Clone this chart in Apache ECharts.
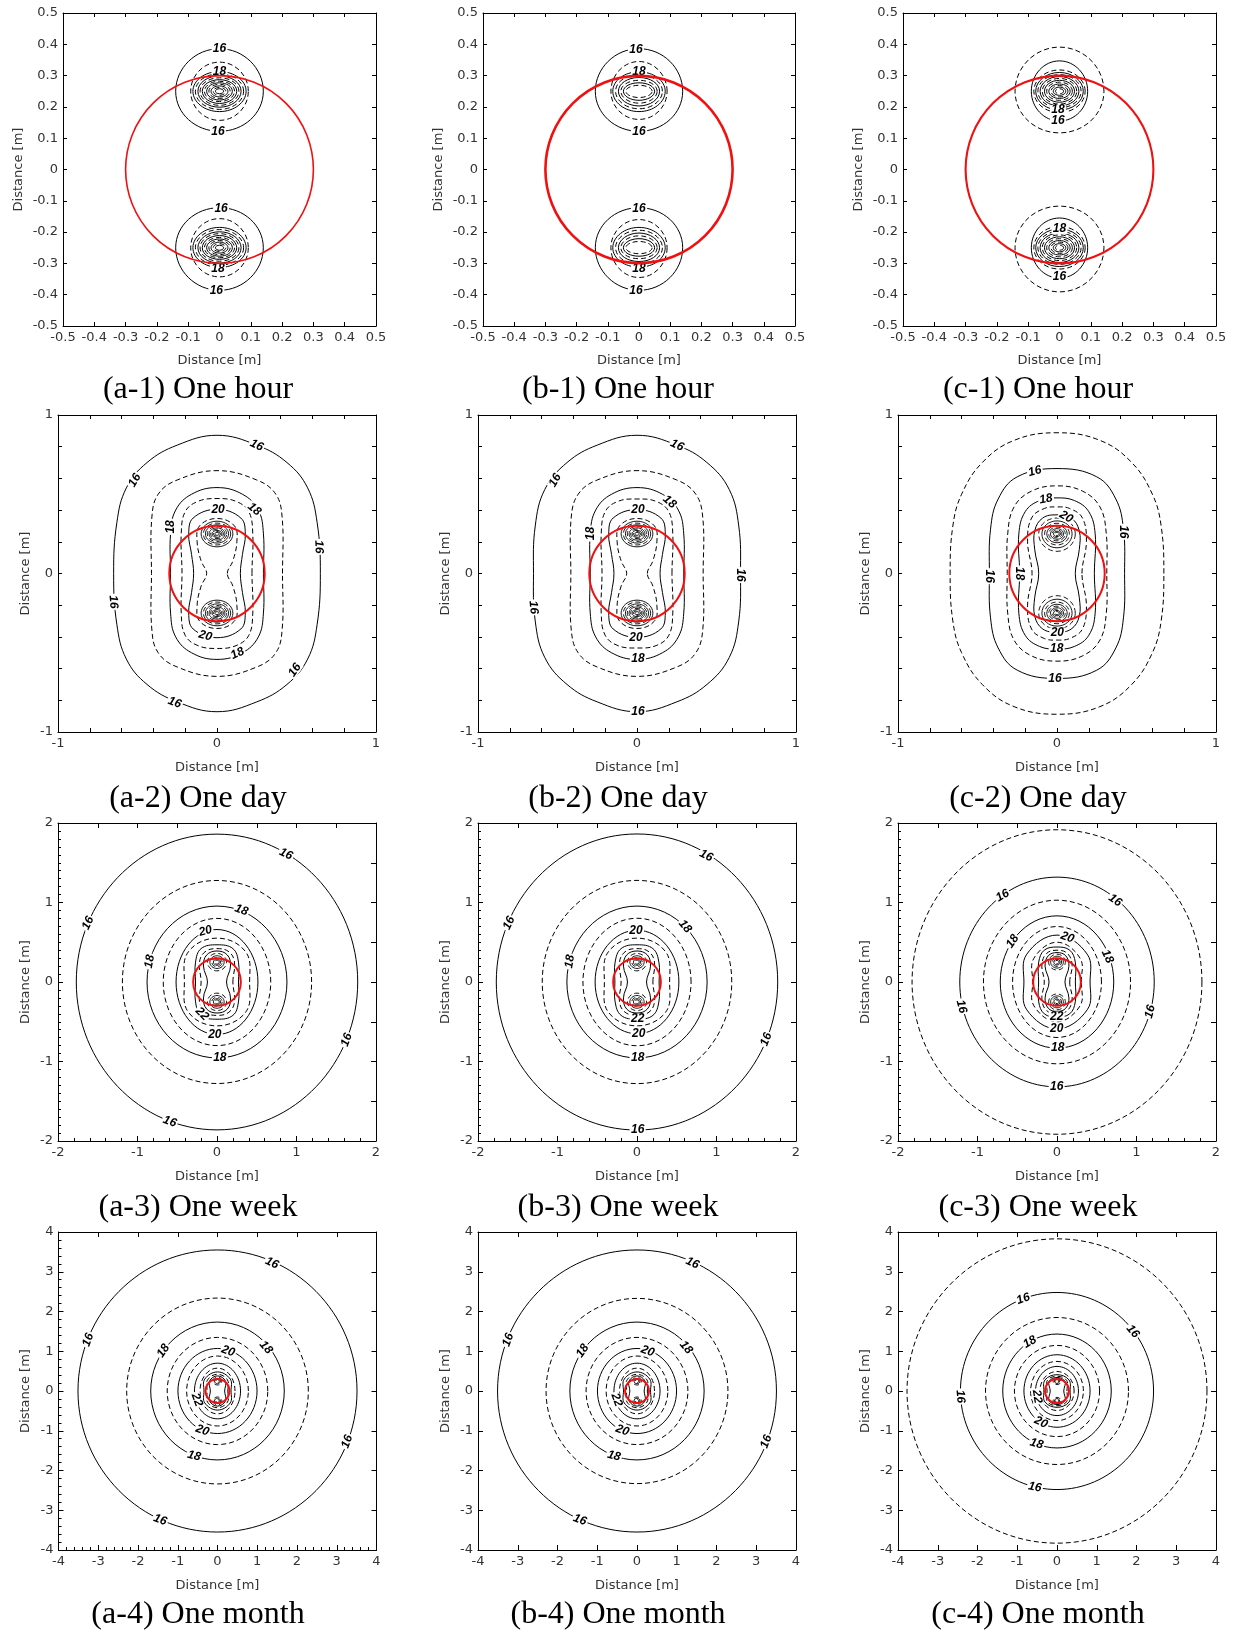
<!DOCTYPE html>
<html><head><meta charset="utf-8">
<script src="https://cdn.jsdelivr.net/npm/echarts@6/dist/echarts.min.js"></script>
<style>html,body{margin:0;padding:0;background:#fff}#c{width:1234px;height:1634px}</style>
</head><body><div id="c"></div>
<script>
// ================= DATA =================
const panelIds = ['a-1','b-1','c-1','a-2','b-2','c-2','a-3','b-3','c-3','a-4','b-4','c-4'];
const periodNames = ['One hour','One day','One week','One month'];
const axisHalfRange = [0.5, 1, 2, 4];          // axis limits per row [m]
const sourceY = 0.25;                           // pipes at (0, ±0.25) m
const boreRadius = 0.3;                         // red circle radius [m]

// Loops around each pipe: [level, halfWidth, halfHeight away from centre, halfHeight toward centre]
const a1Loops = [[16,0.140,0.136,0.128],[17,0.092,0.093,0.093],[18,0.085,0.063,0.065],[19,0.077,0.056,0.058],
  [20,0.069,0.049,0.051],[21,0.062,0.043,0.045],[22,0.055,0.037,0.039],[23,0.048,0.032,0.033],[24,0.041,0.027,0.028],
  [25,0.034,0.022,0.023],[26,0.027,0.017,0.018],[27,0.020,0.012,0.013],[28,0.013,0.008,0.008]];
const b1Loops = [[16,0.140,0.136,0.128],[17,0.090,0.095,0.090],[18,0.084,0.062,0.065],[19,0.075,0.053,0.056],
  [20,0.066,0.044,0.047],[21,0.058,0.035,0.038],[22,0.050,0.027,0.029],[23,0.042,0.019,0.020]];
const c1Loops = [[15,0.142,0.141,0.133],[16,0.090,0.097,0.095],[17,0.082,0.068,0.068],[18,0.076,0.060,0.060],
  [19,0.069,0.053,0.053],[20,0.062,0.047,0.047],[21,0.055,0.041,0.041],[22,0.048,0.035,0.035],[23,0.041,0.029,0.029],
  [24,0.034,0.023,0.023],[25,0.027,0.018,0.018],[26,0.020,0.013,0.013],[27,0.013,0.008,0.008]];
const a2Loops = [[22,0.100,0.080,0.082],[23,0.086,0.068,0.070],[24,0.073,0.057,0.058],[25,0.061,0.047,0.048],
  [26,0.050,0.038,0.039],[27,0.040,0.030,0.030],[28,0.031,0.022,0.022],[29,0.022,0.015,0.015],[30,0.014,0.009,0.009]];
const b2Loops = [[22,0.100,0.080,0.082],[23,0.086,0.068,0.070],[24,0.073,0.057,0.058],[25,0.061,0.047,0.048],
  [26,0.050,0.038,0.039],[27,0.040,0.030,0.030],[28,0.031,0.022,0.022],[29,0.022,0.015,0.015],[30,0.014,0.009,0.009]];
const c2Loops = [[21,0.115,0.100,0.110],[22,0.095,0.082,0.088],[23,0.078,0.067,0.070],[24,0.064,0.054,0.056],
  [25,0.052,0.043,0.044],[26,0.041,0.033,0.034],[27,0.031,0.025,0.025],[28,0.022,0.017,0.017],[29,0.014,0.010,0.010]];
const a3Loops = [[25,0.120,0.110,0.110],[26,0.090,0.080,0.080],[27,0.065,0.058,0.058],[28,0.045,0.040,0.040],[29,0.028,0.025,0.025]];
const b3Loops = [[25,0.120,0.110,0.110],[26,0.090,0.080,0.080],[27,0.065,0.058,0.058],[28,0.045,0.040,0.040],[29,0.028,0.025,0.025]];
const c3Loops = [[25,0.105,0.100,0.100],[26,0.080,0.075,0.075],[27,0.058,0.054,0.054],[28,0.040,0.036,0.036],[29,0.025,0.022,0.022]];
const a4Loops = [[27,0.110,0.100,0.100],[28,0.075,0.068,0.068],[29,0.045,0.040,0.040]];
const b4Loops = [[27,0.110,0.100,0.100],[28,0.075,0.068,0.068],[29,0.045,0.040,0.040]];
const c4Loops = [[27,0.100,0.090,0.090],[28,0.065,0.060,0.060],[29,0.040,0.036,0.036]];

// Rings around the origin: [level, first-quadrant points from the +x axis to the +y axis]
const a2Rings = [
  [16,[[0.650,0],[0.630,0.32],[0.570,0.54],[0.440,0.70],[0.250,0.81],[0,0.872]]],
  [17,[[0.412,0],[0.410,0.35],[0.370,0.50],[0.250,0.59],[0,0.649]]],
  [18,[[0.292,0],[0.292,0.25],[0.260,0.40],[0.160,0.50],[0,0.542]]],
  [19,[[0.220,0],[0.225,0.25],[0.200,0.39],[0.120,0.455],[0,0.473]]],
  [20,[[0.147,0],[0.160,0.12],[0.178,0.25],[0.150,0.35],[0,0.405]]],
  [21,[[0.065,0],[0.100,0.08],[0.125,0.20],[0.110,0.30],[0,0.347]]]];
const b2Rings = [
  [16,[[0.651,0],[0.640,0.30],[0.580,0.53],[0.440,0.70],[0.250,0.81],[0,0.872]]],
  [17,[[0.416,0],[0.414,0.35],[0.370,0.50],[0.250,0.59],[0,0.649]]],
  [18,[[0.294,0],[0.294,0.25],[0.260,0.40],[0.160,0.50],[0,0.542]]],
  [19,[[0.220,0],[0.225,0.25],[0.200,0.39],[0.120,0.455],[0,0.470]]],
  [20,[[0.145,0],[0.160,0.12],[0.178,0.25],[0.150,0.35],[0,0.403]]],
  [21,[[0.065,0],[0.100,0.08],[0.125,0.20],[0.110,0.30],[0,0.347]]]];
const c2Rings = [
  [15,[[0.672,0],[0.655,0.30],[0.600,0.50],[0.470,0.70],[0.270,0.84],[0,0.888]]],
  [16,[[0.425,0],[0.418,0.28],[0.370,0.47],[0.250,0.61],[0,0.662]]],
  [17,[[0.313,0],[0.310,0.25],[0.270,0.42],[0.160,0.52],[0,0.553]]],
  [18,[[0.235,0],[0.240,0.25],[0.200,0.39],[0.110,0.46],[0,0.477]]],
  [19,[[0.157,0],[0.185,0.20],[0.160,0.35],[0.080,0.41],[0,0.420]]],
  [20,[[0.115,0],[0.140,0.15],[0.140,0.27],[0.090,0.35],[0,0.370]]]];
const a3Rings = [
  [16,[[1.770,0],[0,1.860]]],[17,[[1.190,0],[0,1.277]]],[18,[[0.880,0],[0,0.955]]],
  [19,[[0.676,0],[0,0.800]]],[20,[[0.515,0],[0,0.660]]],[21,[[0.410,0],[0.360,0.38],[0,0.552]]],
  [22,[[0.270,0],[0.270,0.25],[0.200,0.42],[0,0.468]]],[23,[[0.200,0],[0.220,0.25],[0.150,0.38],[0,0.420]]],
  [24,[[0.120,0],[0.170,0.20],[0.130,0.34],[0,0.390]]]];
const b3Rings = [
  [16,[[1.770,0],[0,1.862]]],[17,[[1.192,0],[0,1.278]]],[18,[[0.882,0],[0,0.955]]],
  [19,[[0.680,0],[0,0.802]]],[20,[[0.527,0],[0,0.651]]],[21,[[0.410,0],[0.360,0.38],[0,0.552]]],
  [22,[[0.278,0],[0.275,0.25],[0.200,0.42],[0,0.468]]],[23,[[0.200,0],[0.220,0.25],[0.150,0.38],[0,0.420]]],
  [24,[[0.120,0],[0.170,0.20],[0.130,0.34],[0,0.390]]]];
const c3Rings = [
  [15,[[1.823,0],[0,1.915]]],[16,[[1.223,0],[0,1.319]]],[17,[[0.925,0],[0,1.029]]],
  [18,[[0.714,0],[0,0.832]]],[19,[[0.559,0],[0,0.698]]],[20,[[0.416,0],[0.380,0.35],[0,0.590]]],
  [21,[[0.305,0],[0.290,0.30],[0,0.500]]],[22,[[0.231,0],[0.230,0.25],[0.160,0.40],[0,0.440]]],
  [23,[[0.160,0],[0.190,0.22],[0.130,0.36],[0,0.400]]],[24,[[0.100,0],[0.150,0.20],[0.110,0.33],[0,0.370]]]];
const a4Rings = [
  [16,[[3.510,0],[0,3.548]]],[17,[[2.285,0],[0,2.338]]],[18,[[1.680,0],[0,1.734]]],
  [19,[[1.265,0],[0,1.348]]],[20,[[0.995,0],[0,1.070]]],[21,[[0.777,0],[0,0.880]]],
  [22,[[0.580,0],[0,0.700]]],[23,[[0.440,0],[0,0.575]]],[24,[[0.340,0],[0.320,0.30],[0,0.480]]],
  [25,[[0.260,0],[0.250,0.28],[0,0.420]]],[26,[[0.180,0],[0.200,0.25],[0,0.380]]]];
const b4Rings = [
  [16,[[3.508,0],[0,3.548]]],[17,[[2.288,0],[0,2.330]]],[18,[[1.689,0],[0,1.734]]],
  [19,[[1.281,0],[0,1.348]]],[20,[[0.995,0],[0,1.070]]],[21,[[0.777,0],[0,0.880]]],
  [22,[[0.580,0],[0,0.700]]],[23,[[0.440,0],[0,0.575]]],[24,[[0.340,0],[0.320,0.30],[0,0.480]]],
  [25,[[0.260,0],[0.250,0.28],[0,0.420]]],[26,[[0.180,0],[0.200,0.25],[0,0.380]]]];
const c4Rings = [
  [15,[[3.773,0],[0,3.828]]],[16,[[2.429,0],[0,2.479]]],[17,[[1.798,0],[0,1.849]]],
  [18,[[1.365,0],[0,1.433]]],[19,[[1.071,0],[0,1.147]]],[20,[[0.832,0],[0,0.912]]],
  [21,[[0.664,0],[0,0.744]]],[22,[[0.540,0],[0,0.618]]],[23,[[0.430,0],[0,0.490]]],
  [24,[[0.330,0],[0.300,0.28],[0,0.410]]],[25,[[0.250,0],[0.240,0.27],[0,0.370]]],[26,[[0.170,0],[0.200,0.24],[0,0.340]]]];

// Contour labels: [text, x, y, rotation in degrees (counter-clockwise)]
const a1Labels = [['16',0,0.386,0],['18',0,0.312,0],['16',-0.005,0.122,0],['16',0.005,-0.126,0],['18',-0.005,-0.317,0],['16',-0.01,-0.386,0]];
const b1Labels = [['16',-0.01,0.384,0],['18',0,0.311,0],['16',0,0.122,0],['16',0,-0.125,0],['18',0,-0.316,0],['16',-0.01,-0.386,0]];
const c1Labels = [['18',-0.005,0.19,0],['16',-0.005,0.157,0],['18',0,-0.19,0],['16',0,-0.342,0]];
const a2Labels = [['16',0.249,0.809,-25],['16',-0.517,0.588,60],['16',0.640,0.168,-88],['16',-0.652,-0.179,-85],
  ['16',0.49,-0.609,55],['16',-0.266,-0.815,-20],['18',0.235,0.405,-40],['18',-0.293,0.294,90],['18',0.129,-0.504,25],
  ['20',0.007,0.403,0],['20',-0.073,-0.393,-15]];
const b2Labels = [['16',0.252,0.809,-25],['16',-0.515,0.588,60],['16',0.651,-0.01,-90],['16',-0.651,-0.214,-85],
  ['16',0.006,-0.872,0],['18',0.205,0.452,-40],['18',-0.294,0.252,90],['18',0.006,-0.540,0],['20',0.006,0.403,0],['20',-0.006,-0.405,0]];
const c2Labels = [['16',-0.139,0.645,15],['16',0.414,0.263,-90],['16',-0.426,-0.017,-90],['16',-0.013,-0.662,0],
  ['18',-0.069,0.470,10],['18',-0.237,0,-90],['18',-0.002,-0.475,0],['20',0.057,0.357,-30],['20',0.002,-0.372,0]];
const a3Labels = [['16',0.867,1.61,-25],['16',-1.622,0.741,65],['16',1.631,-0.729,70],['16',-0.594,-1.757,-20],
  ['18',0.308,0.905,-20],['18',-0.846,0.258,80],['18',0.036,-0.955,0],['20',-0.145,0.640,15],['20',-0.027,-0.658,0],['22',-0.187,-0.400,-45]];
const b3Labels = [['16',0.87,1.589,-25],['16',-1.609,0.741,65],['16',1.626,-0.721,70],['16',0.008,-1.862,0],
  ['18',0.605,0.699,-50],['18',-0.845,0.258,80],['18',0.008,-0.955,0],['20',-0.013,0.651,0],['20',0.021,-0.651,0],['22',0.008,-0.466,0]];
const c3Labels = [['16',-0.685,1.086,30],['16',0.731,1.027,-35],['16',-1.202,-0.309,-75],['16',1.172,-0.372,75],
  ['16',-0.004,-1.319,0],['18',-0.559,0.51,55],['18',0.634,0.321,-65],['18',0.008,-0.832,0],['20',0.13,0.56,-20],
  ['20',-0.004,-0.588,0],['22',-0.004,-0.435,0]];
const a4Labels = [['16',1.37,3.22,-25],['16',-3.252,1.289,70],['16',3.26,-1.272,70],['16',-1.445,-3.245,-20],
  ['18',-1.361,1.012,55],['18',1.218,1.096,-50],['18',-0.588,-1.633,-15],['20',0.27,1.0,-20],['20',-0.378,-0.99,-20],['22',-0.521,-0.222,-70]];
const b4Labels = [['16',1.395,3.22,-25],['16',-3.244,1.289,70],['16',3.252,-1.272,70],['16',-1.437,-3.245,-20],
  ['18',-1.37,1.012,55],['18',1.235,1.096,-50],['18',-0.58,-1.633,-15],['20',0.27,1.0,-20],['20',-0.37,-0.99,-20],['22',-0.513,-0.222,-70]];
const c4Labels = [['16',-0.849,2.32,20],['16',1.908,1.5,-50],['16',-2.43,-0.139,-85],['16',-0.555,-2.42,-10],
  ['18',-0.681,1.23,30],['18',-0.513,-1.33,-15],['20',-0.403,-0.79,-25],['22',-0.5,-0.14,-80]];

// ================= LAYOUT / STYLE =================
const loopSets  = [a1Loops,b1Loops,c1Loops,a2Loops,b2Loops,c2Loops,a3Loops,b3Loops,c3Loops,a4Loops,b4Loops,c4Loops];
const ringSets  = [[],[],[],a2Rings,b2Rings,c2Rings,a3Rings,b3Rings,c3Rings,a4Rings,b4Rings,c4Rings];
const labelSets = [a1Labels,b1Labels,c1Labels,a2Labels,b2Labels,c2Labels,a3Labels,b3Labels,c3Labels,a4Labels,b4Labels,c4Labels];

const gridBoxes = [
  [63,13,313,313],[483,13,312,313],[903,13,313,313],
  [58,415,318,317],[478,415,318,317],[898,415,318,317],
  [58,823,318,318],[478,823,318,318],[898,823,318,318],
  [58.5,1232,318,318],[478,1232,318,318],[898,1232,318,318]];
const captionX = [198, 618, 1038];
const captionY = [390, 799, 1208, 1615];
const boreWidth = [1.6,2.6,2.1, 2,2,2, 2,2,2, 2,2,2];
const tickSpecs = [
  {maj:0.1,bm:0,lm:0,top:0.1,right:0.1,len:4,mlen:3},
  {maj:0.1,bm:0,lm:0,top:0.1,right:0.1,len:4,mlen:3},
  {maj:0.1,bm:0,lm:0,top:0.1,right:0.1,len:4,mlen:3},
  {maj:1,bm:5,lm:5,top:0.2,right:0.2,len:4,mlen:4},
  {maj:1,bm:5,lm:5,top:0.2,right:0.2,len:4,mlen:4},
  {maj:1,bm:5,lm:5,top:0.2,right:0.2,len:4,mlen:4},
  {maj:1,bm:5,lm:10,top:0.5,right:0.5,len:5,mlen:3},
  {maj:1,bm:5,lm:10,top:0.5,right:0.5,len:5,mlen:3},
  {maj:1,bm:5,lm:10,top:0.5,right:0.5,len:5,mlen:3},
  {maj:1,bm:5,lm:5,top:1,right:1,len:5,mlen:3},
  {maj:1,bm:0,lm:0,top:1,right:1,len:5,mlen:3},
  {maj:1,bm:0,lm:0,top:1,right:1,len:5,mlen:3}];

const TXT = {fontFamily:'DejaVu Sans', fontSize:13, color:'#333'};
const NAME = {fontFamily:'DejaVu Sans', fontSize:13, color:'#333'};

function mirror(q) {
  const n = q.length - 1, out = [];
  for (let i = 0; i <= n; i++) out.push([q[i][0], q[i][1]]);
  for (let i = n - 1; i >= 0; i--) out.push([-q[i][0], q[i][1]]);
  for (let i = 1; i <= n; i++) out.push([-q[i][0], -q[i][1]]);
  for (let i = n - 1; i >= 1; i--) out.push([q[i][0], -q[i][1]]);
  return out;
}
function lineStyle(level, w) {
  const s = {fill:'none', stroke:'#000', lineWidth: w};
  if (level % 2 === 1) s.lineDash = [5, 3];
  return s;
}

function makeRender(p) {
  return function (params, api) {
    const ch = [];
    const row = Math.floor(p / 3);
    ringSets[p].forEach(([lv, q]) => {
      const pts = mirror(q).map(d => api.coord(d));
      ch.push({type:'polygon', shape:{points:pts, smooth: q.length === 2 ? 0.55 : 0.4}, style: lineStyle(lv, 1)});
    });
    loopSets[p].forEach(([lv, rx, ro, ri]) => {
      [1, -1].forEach(s => {
        const cy = s * sourceY;
        const pts = [[rx, cy], [0, cy + s * ro], [-rx, cy], [0, cy - s * ri]].map(d => api.coord(d));
        ch.push({type:'polygon', shape:{points:pts, smooth:0.55}, style: lineStyle(lv, row === 0 ? 1 : 0.9)});
      });
    });
    labelSets[p].forEach(([t, x, y, rot]) => {
      const c = api.coord([x, y]);
      ch.push({type:'group', x:c[0], y:c[1], rotation: rot * Math.PI / 180, children:[
        {type:'rect', shape:{x:-8, y:-5, width:16, height:10}, style:{fill:'#fff'}},
        {type:'text', style:{text:t, x:0, y:0, fill:'#000', textFill:'#000',
          font:'italic bold 12px "Liberation Sans"', align:'center', textAlign:'center',
          verticalAlign:'middle', textVerticalAlign:'middle'}}
      ]});
    });
    const o = api.coord([0, 0]);
    const r = api.size([boreRadius, boreRadius]);
    ch.push({type:'circle', shape:{cx:o[0], cy:o[1], r:r[0]}, style:{fill:'none', stroke:'#f01010', lineWidth: boreWidth[p]}});
    return {type:'group', children: ch};
  };
}

const grid = [], xAxis = [], yAxis = [], series = [], graphics = [];
panelIds.forEach((id, i) => {
  const row = Math.floor(i / 3), col = i % 3;
  const R = axisHalfRange[row];
  const t = tickSpecs[i];
  const b = gridBoxes[i];
  grid.push({left:b[0], top:b[1], width:b[2], height:b[3], containLabel:false, outerBoundsMode:'none'});
  const line = {show:true, onZero:false, lineStyle:{color:'#000', width:1}};
  const tick = (len) => ({show:true, inside:true, length:len, lineStyle:{color:'#000', width:1}});
  const minor = (split) => ({show: !!split, splitNumber: split || 5, length: t.mlen, lineStyle:{color:'#000', width:1}});
  const gap = row === 0 ? 38 : 26;
  xAxis.push({type:'value', gridIndex:i, position:'bottom', min:-R, max:R, interval:t.maj,
    axisLine:line, axisTick:tick(t.len), minorTick:minor(t.bm), splitLine:{show:false}, minorSplitLine:{show:false},
    axisLabel:Object.assign({margin:5, hideOverlap:false}, TXT),
    name:'Distance [m]', nameLocation:'middle', nameGap: row === 0 ? 28 : 29, nameTextStyle:NAME, nameMoveOverlap:false});
  xAxis.push({type:'value', gridIndex:i, position:'top', min:-R, max:R, interval:t.top,
    axisLine:line, axisTick:tick(t.len), splitLine:{show:false}, axisLabel:{show:false}});
  yAxis.push({type:'value', gridIndex:i, position:'left', min:-R, max:R, interval:t.maj,
    axisLine:line, axisTick:tick(t.len), minorTick:minor(t.lm), splitLine:{show:false}, minorSplitLine:{show:false},
    axisLabel:Object.assign({margin:5, hideOverlap:false}, TXT),
    name:'Distance [m]', nameLocation:'middle', nameGap:gap, nameTextStyle:NAME, nameMoveOverlap:false});
  yAxis.push({type:'value', gridIndex:i, position:'right', min:-R, max:R, interval:t.right,
    axisLine:line, axisTick:tick(t.len), splitLine:{show:false}, axisLabel:{show:false}});
  series.push({type:'custom', name:id, xAxisIndex:2 * i, yAxisIndex:2 * i, coordinateSystem:'cartesian2d',
    clip:true, silent:true, data:[[0, 0]], renderItem: makeRender(i)});
  graphics.push({type:'text', x:captionX[col], y:captionY[row],
    style:{text:'(' + id + ') ' + periodNames[row], fill:'#000', textFill:'#000',
      font:'32px "Liberation Serif"', align:'center', textAlign:'center', verticalAlign:'middle', textVerticalAlign:'middle'}});
});

const chart = echarts.init(document.getElementById('c'), null, {renderer:'canvas', width:1234, height:1634});
chart.setOption({animation:false, backgroundColor:'#fff', grid, xAxis, yAxis, series, graphic:{elements:graphics}});
</script>
</body></html>
